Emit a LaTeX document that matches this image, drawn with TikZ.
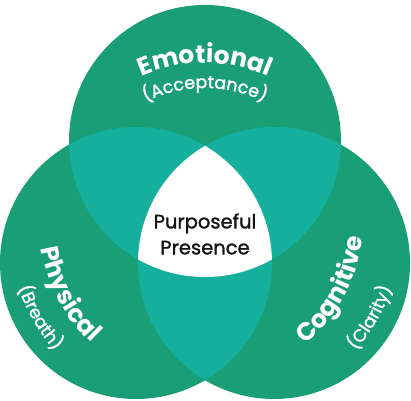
\documentclass[tikz,border=0pt]{standalone}
\usepackage{fontspec}
\setmainfont{Poppins}
\newfontfamily\popmed[FakeBold=1.4]{Poppins}
\usetikzlibrary{decorations.text}
\definecolor{vgreen}{HTML}{1A9E76}
\definecolor{vteal}{HTML}{14B09D}
\definecolor{vink}{HTML}{141414}
\newcommand\ttlfont{\color{white}\fontsize{25}{26}\selectfont\bfseries}
\newcommand\subfont{\color{white}\popmed\fontsize{17.5}{18}\selectfont}
\begin{document}
\begin{tikzpicture}[x=1pt,y=1pt,
  ring/.style={radius=136},
  arctext/.style={decorate,decoration={text along path,text align=center,text={#1}}}]
\useasboundingbox (0,0) rectangle (411,400);
\coordinate (T) at (205,259);
\coordinate (L) at (136,137);
\coordinate (R) at (274,137);
\coordinate (C) at (205,178);
% circles
\fill[vgreen] (T) circle[ring] (L) circle[ring] (R) circle[ring];
% pairwise overlaps
\begin{scope}
  \clip (T) circle[ring];
  \fill[vteal] (L) circle[ring];
  \fill[vteal] (R) circle[ring];
\end{scope}
\begin{scope}
  \clip (L) circle[ring];
  \fill[vteal] (R) circle[ring];
\end{scope}
% triple overlap
\begin{scope}
  \clip (T) circle[ring];
  \clip (L) circle[ring];
  \fill[white] (R) circle[ring];
\end{scope}
% centre text
\node[align=center,text=vink,font=\popmed\fontsize{19.5}{26}\selectfont] (centre) at (205,166) {Purposeful\\Presence};
% curved labels
\path[arctext={|\ttlfont|Emotional}] ([shift={(130:159)}]C) arc[start angle=130,end angle=50,radius=159];
\path[arctext={|\subfont|(Acceptance)}] ([shift={(130:134)}]C) arc[start angle=130,end angle=50,radius=134];
\path[arctext={|\ttlfont|Physical}] ([shift={(170:166)}]C) arc[start angle=170,end angle=246,radius=166];
\path[arctext={|\subfont|(Breath)}] ([shift={(180:198)}]C) arc[start angle=180,end angle=240,radius=198];
\path[arctext={|\ttlfont|Cognitive}] ([shift={(-68:158)}]C) arc[start angle=-68,end angle=12,radius=158];
\path[arctext={|\subfont|(Clarity)}] ([shift={(-61:198)}]C) arc[start angle=-61,end angle=1,radius=198];
\end{tikzpicture}
\end{document}
